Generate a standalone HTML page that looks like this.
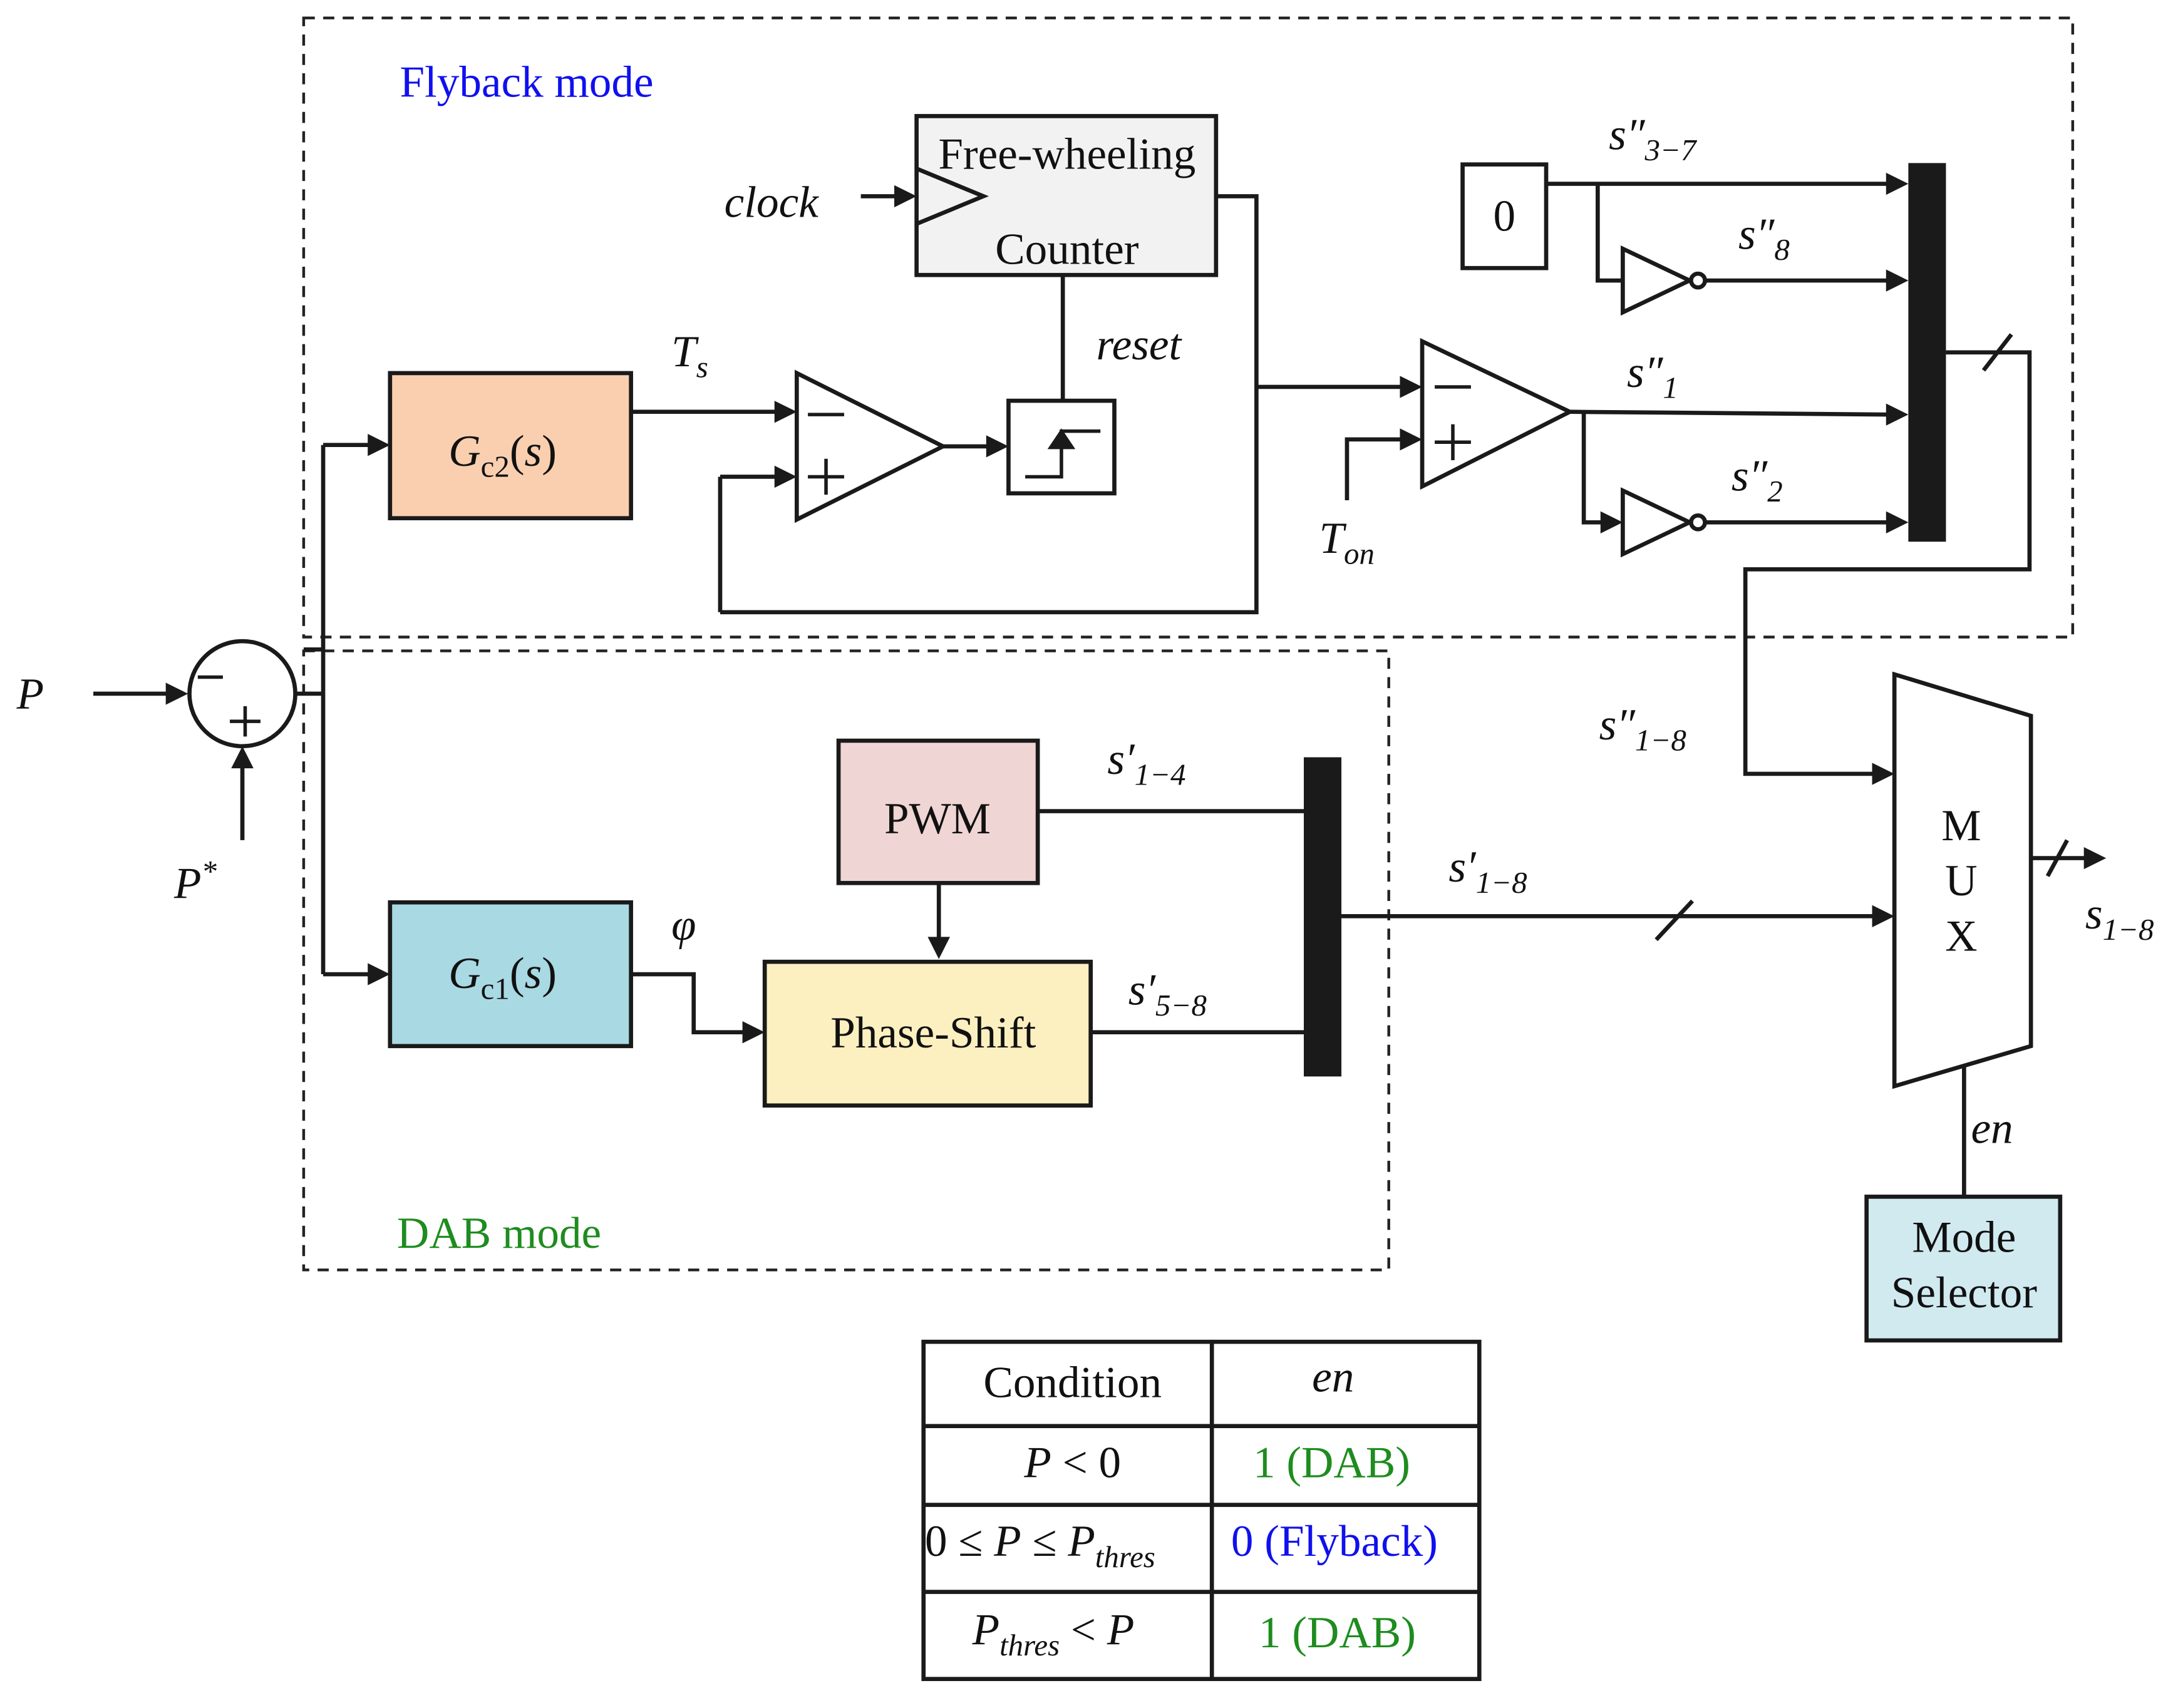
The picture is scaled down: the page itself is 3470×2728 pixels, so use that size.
<!DOCTYPE html>
<html><head><meta charset="utf-8"><style>
html,body{margin:0;padding:0;background:#fff;}
svg{display:block;}
text{font-family:"Liberation Serif",serif;font-size:32px;fill:#111;}
.i{font-style:italic;}
.s{font-size:22px;}
</style></head><body>
<svg width="3470" height="2728" viewBox="0 0 1560 1236" preserveAspectRatio="none" xmlns="http://www.w3.org/2000/svg">
<g fill="none" stroke="#222" stroke-width="2" stroke-dasharray="8,6">
<rect x="218" y="13" width="1270" height="448"/>
<rect x="218" y="471" width="779" height="448"/>
</g>
<text x="287" y="70" style="fill:#1010ee">Flyback mode</text>
<text x="285" y="903" style="fill:#1e8c1e">DAB mode</text>

<g stroke="#1a1a1a" stroke-width="3" fill="none">
<circle cx="174" cy="502" r="38"/>
<line x1="67" y1="502" x2="125" y2="502"/>
<line x1="174" y1="608" x2="174" y2="550"/>
<line x1="212" y1="502" x2="232" y2="502"/>
<line x1="232" y1="322" x2="232" y2="705"/>
<line x1="218" y1="470" x2="232" y2="470"/>
<line x1="232" y1="322" x2="268" y2="322"/>
<line x1="232" y1="705" x2="268" y2="705"/>
<rect x="280" y="270" width="173" height="105" fill="#f9cfb0"/>
<rect x="280" y="653" width="173" height="104" fill="#a9d9e3"/>
<line x1="453" y1="298" x2="560" y2="298"/>
<polygon points="572,270 572,376 677,323" fill="#fff"/>
<line x1="677" y1="323" x2="712" y2="323"/>
<rect x="724" y="290" width="76" height="67" fill="#fff"/>
<polyline points="736,345 762,345 762,312 790,312" stroke-width="2.5"/>
<line x1="517" y1="443" x2="517" y2="345"/>
<line x1="517" y1="345" x2="560" y2="345"/>
<polyline points="517,443 902,443 902,142 873,142"/>
<line x1="902" y1="280" x2="1008" y2="280"/>
<rect x="658" y="84" width="215" height="115" fill="#f2f2f2"/>
<polyline points="658,122 706,142 658,162"/>
<line x1="618" y1="142" x2="646" y2="142"/>
<line x1="763" y1="199" x2="763" y2="290"/>
<polygon points="1021,247 1021,352 1127,298" fill="#fff"/>
<polyline points="967,362 967,318 1008,318"/>
<line x1="1127" y1="298" x2="1358" y2="300"/>
<polyline points="1137,298 1137,378 1153,378"/>
<polygon points="1165,355 1165,401 1213,378" fill="#fff"/>
<circle cx="1219" cy="378" r="5" fill="#fff"/>
<line x1="1224" y1="378" x2="1358" y2="378"/>
<rect x="1050" y="119" width="60" height="75" fill="#fff"/>
<line x1="1110" y1="133" x2="1358" y2="133"/>
<polyline points="1147,133 1147,203 1165,203"/>
<polygon points="1165,180 1165,226 1213,203" fill="#fff"/>
<circle cx="1219" cy="203" r="5" fill="#fff"/>
<line x1="1224" y1="203" x2="1358" y2="203"/>
<polyline points="1397,255 1457,255 1457,412 1253,412 1253,560 1348,560"/>
<line x1="1424" y1="268" x2="1444" y2="242"/>
<rect x="602" y="536" width="143" height="103" fill="#f0d5d5"/>
<line x1="674" y1="639" x2="674" y2="682"/>
<rect x="549" y="696" width="234" height="104" fill="#fdf0c0"/>
<polyline points="453,705 498,705 498,747 537,747"/>
<line x1="745" y1="587" x2="936" y2="587"/>
<line x1="783" y1="747" x2="936" y2="747"/>
<line x1="963" y1="663" x2="1348" y2="663"/>
<line x1="1189" y1="680" x2="1215" y2="652"/>
<polygon points="1360,488 1458,518 1458,757 1360,786" fill="#fff"/>
<line x1="1458" y1="621" x2="1500" y2="621"/>
<line x1="1470" y1="634" x2="1484" y2="608"/>
<line x1="1410" y1="772" x2="1410" y2="866"/>
<rect x="1340" y="866" width="139" height="104" fill="#d0eaf0"/>
<rect x="663" y="971" width="399" height="244"/>
<line x1="870" y1="971" x2="870" y2="1215"/>
<line x1="663" y1="1032" x2="1062" y2="1032"/>
<line x1="663" y1="1089" x2="1062" y2="1089"/>
<line x1="663" y1="1152" x2="1062" y2="1152"/>
</g>
<g fill="#1a1a1a">
<polygon points="135,502 119,494 119,510"/>
<polygon points="174,540 166,556 182,556"/>
<polygon points="280,322 264,314 264,330"/>
<polygon points="280,705 264,697 264,713"/>
<polygon points="572,298 556,290 556,306"/>
<polygon points="572,345 556,337 556,353"/>
<polygon points="724,323 708,315 708,331"/>
<polygon points="658,142 642,134 642,150"/>
<polygon points="1021,280 1005,272 1005,288"/>
<polygon points="1021,318 1005,310 1005,326"/>
<polygon points="1370,300 1354,292 1354,308"/>
<polygon points="1370,378 1354,370 1354,386"/>
<polygon points="1370,133 1354,125 1354,141"/>
<polygon points="1370,203 1354,195 1354,211"/>
<polygon points="1165,378 1149,370 1149,386"/>
<polygon points="1360,560 1344,552 1344,568"/>
<polygon points="1360,663 1344,655 1344,671"/>
<polygon points="1512,621 1496,613 1496,629"/>
<polygon points="674,694 666,678 682,678"/>
<polygon points="549,747 533,739 533,755"/>
<rect x="1370" y="118" width="27" height="274"/>
<rect x="936" y="548" width="27" height="231"/>
</g>
<g stroke="#1a1a1a" stroke-width="2.5">
<line x1="142" y1="490" x2="160" y2="490"/>
<line x1="165" y1="522" x2="187" y2="522"/><line x1="176" y1="511" x2="176" y2="533"/>
<line x1="580" y1="300" x2="606" y2="300"/>
<line x1="580" y1="345" x2="606" y2="345"/><line x1="593" y1="332" x2="593" y2="358"/>
<line x1="1030" y1="280" x2="1056" y2="280"/>
<line x1="1030" y1="320" x2="1056" y2="320"/><line x1="1043" y1="307" x2="1043" y2="333"/>
</g>
<path d="M752,325 L762,310 L772,325 Z" fill="#1a1a1a"/>
<text x="12" y="513" class="i">P</text>
<text x="125" y="650" class="i">P<tspan class="s" dy="-12">*</tspan></text>
<text x="322" y="337"><tspan class="i">G</tspan><tspan class="s" dy="8">c2</tspan><tspan dy="-8">(</tspan><tspan class="i">s</tspan>)</text>
<text x="322" y="715"><tspan class="i">G</tspan><tspan class="s" dy="8">c1</tspan><tspan dy="-8">(</tspan><tspan class="i">s</tspan>)</text>
<text x="482" y="265" class="i">T<tspan class="s" dy="8">s</tspan></text>
<text x="520" y="157" class="i">clock</text>
<text x="787" y="260" class="i">reset</text>
<text x="766" y="122" text-anchor="middle">Free-wheeling</text>
<text x="766" y="191" text-anchor="middle">Counter</text>
<text x="1080" y="167" text-anchor="middle">0</text>
<text x="947" y="400" class="i">T<tspan class="s" dy="8">on</tspan></text>
<text x="1155" y="108" class="i">s″<tspan class="s" dy="8">3−7</tspan></text>
<text x="1248" y="180" class="i">s″<tspan class="s" dy="8">8</tspan></text>
<text x="1168" y="280" class="i">s″<tspan class="s" dy="8">1</tspan></text>
<text x="1243" y="355" class="i">s″<tspan class="s" dy="8">2</tspan></text>
<text x="1148" y="535" class="i">s″<tspan class="s" dy="8">1−8</tspan></text>
<text x="673" y="603" text-anchor="middle">PWM</text>
<text x="670" y="758" text-anchor="middle">Phase-Shift</text>
<text x="482" y="680" class="i">φ</text>
<text x="795" y="560" class="i">s′<tspan class="s" dy="8">1−4</tspan></text>
<text x="810" y="727" class="i">s′<tspan class="s" dy="8">5−8</tspan></text>
<text x="1040" y="638" class="i">s′<tspan class="s" dy="8">1−8</tspan></text>
<text x="1408" y="608" text-anchor="middle">M</text>
<text x="1408" y="648" text-anchor="middle">U</text>
<text x="1408" y="688" text-anchor="middle">X</text>
<text x="1497" y="672" class="i">s<tspan class="s" dy="8">1−8</tspan></text>
<text x="1415" y="827" class="i">en</text>
<text x="1410" y="906" text-anchor="middle">Mode</text>
<text x="1410" y="946" text-anchor="middle">Selector</text>
<text x="770" y="1011" text-anchor="middle">Condition</text>
<text x="957" y="1007" text-anchor="middle" class="i">en</text>
<text x="770" y="1069" text-anchor="middle"><tspan class="i">P</tspan> &lt; 0</text>
<text x="956" y="1069" text-anchor="middle" style="fill:#1e8c1e">1 (DAB)</text>
<text x="664" y="1126">0 ≤ <tspan class="i">P</tspan> ≤ <tspan class="i">P</tspan><tspan class="s i" dy="8">thres</tspan></text>
<text x="958" y="1126" text-anchor="middle" style="fill:#1010ee">0 (Flyback)</text>
<text x="698" y="1190"><tspan class="i">P</tspan><tspan class="s i" dy="8">thres</tspan><tspan dy="-8"> &lt; </tspan><tspan class="i">P</tspan></text>
<text x="960" y="1192" text-anchor="middle" style="fill:#1e8c1e">1 (DAB)</text>
</svg>
</body></html>
